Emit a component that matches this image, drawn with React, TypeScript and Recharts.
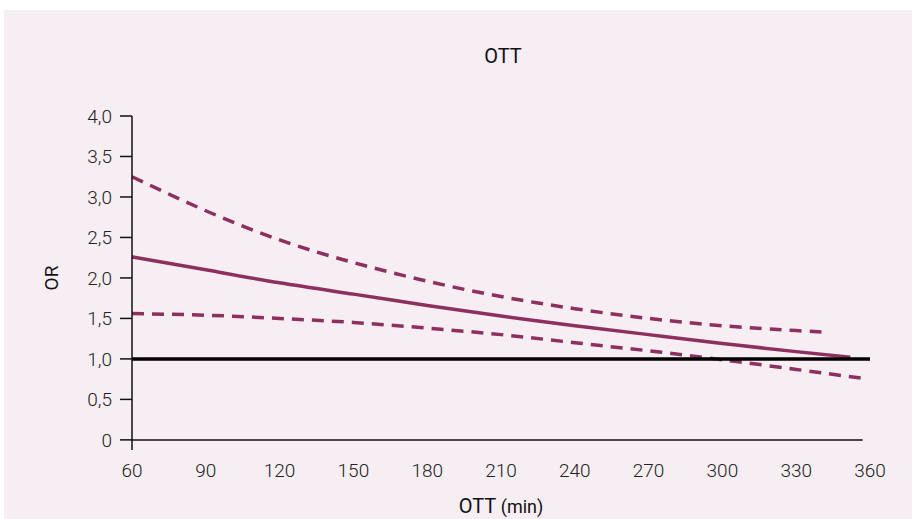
import React from 'react';
import { LineChart, Line, XAxis, YAxis, ReferenceLine, Label } from 'recharts';

const xTicks = [60, 90, 120, 150, 180, 210, 240, 270, 300, 330, 360];
const yTicks = [0, 0.5, 1, 1.5, 2, 2.5, 3, 3.5, 4];

const upperX = [60, 90, 120, 150, 180, 210, 240, 270, 300, 330, 342];
const upperOR = [3.25, 2.83, 2.47, 2.19, 1.96, 1.77, 1.62, 1.5, 1.41, 1.35, 1.33];

const mainX = [60, 90, 120, 150, 180, 210, 240, 270, 300, 330, 352];
const mainOR = [2.26, 2.1, 1.94, 1.8, 1.66, 1.53, 1.41, 1.3, 1.19, 1.09, 1.02];

const lowerX = [60, 90, 120, 150, 180, 210, 240, 270, 300, 330, 357];
const lowerOR = [1.56, 1.54, 1.5, 1.45, 1.38, 1.3, 1.2, 1.1, 0.99, 0.87, 0.76];

const refOR = 1;
const axisStart = 60;
const axisEnd = 357;

const toData = (xs: number[], ys: number[]) => xs.map((x, i) => ({ x, y: ys[i] }));
const upperData = toData(upperX, upperOR);
const mainData = toData(mainX, mainOR);
const lowerData = toData(lowerX, lowerOR);

const LINE = '#8d2f5f';
const FONT = 'Roboto, "Liberation Sans", sans-serif';

const fmtY = (v: number) => (v === 0 ? '0' : v.toFixed(1).replace('.', ','));

export default function App() {
  return (
    <div style={{ position: 'absolute', left: 0, top: 0, width: 912, height: 519, background: '#ffffff', fontFamily: FONT }}>
      <div style={{ position: 'absolute', left: 4, top: 10, right: 0, bottom: 0, background: '#f6eef3' }} />
      <div style={{ position: 'absolute', left: 403, width: 200, top: 44, textAlign: 'center', fontSize: 20, fontWeight: 400, color: '#111', lineHeight: '24px' }}>OTT</div>
      <div style={{ position: 'absolute', left: 0, top: 0 }}>
        <LineChart width={912} height={519} margin={{ top: 116, right: 42, bottom: 29, left: 72 }}>
          <XAxis
            type="number"
            dataKey="x"
            domain={[60, 360]}
            ticks={xTicks}
            axisLine={false}
            tickLine={false}
            tickSize={8}
            tickMargin={6}
            height={40}
            allowDuplicatedCategory={false}
            tick={{ fontSize: 19, fill: '#222', fontFamily: FONT, fontWeight: 300 }}
          >
            <Label
              content={(p: any) => {
                const vb = p.viewBox || { x: 132, y: 450, width: 738 };
                return (
                  <text x={vb.x + vb.width / 2} y={vb.y + 63} textAnchor="middle" fill="#111" fontFamily={FONT} fontWeight={400}>
                    <tspan fontSize={20}>OTT </tspan>
                    <tspan fontSize={18}>(min)</tspan>
                  </text>
                );
              }}
            />
          </XAxis>
          <YAxis
            type="number"
            domain={[-0.125, 4]}
            ticks={yTicks}
            tickFormatter={fmtY}
            width={60}
            axisLine={{ stroke: '#111', strokeWidth: 1.5 }}
            tickLine={{ stroke: '#111', strokeWidth: 1.5 }}
            tickSize={12}
            tickMargin={8}
            tick={{ fontSize: 19, fill: '#222', fontFamily: FONT, fontWeight: 300 }}
          >
            <Label
              content={(p: any) => {
                const vb = p.viewBox || { x: 72, y: 116, height: 334 };
                const cx = vb.x - 14;
                const cy = vb.y + 162;
                return (
                  <text x={cx} y={cy} transform={`rotate(-90 ${cx} ${cy})`} textAnchor="middle" fontSize={19} fill="#111" fontFamily={FONT} fontWeight={400}>
                    OR
                  </text>
                );
              }}
            />
          </YAxis>
          <ReferenceLine
            segment={[{ x: axisStart, y: 0 }, { x: axisEnd, y: 0 }]}
            stroke="#111"
            strokeWidth={1.5}
          />
          <Line data={upperData} dataKey="y" type="natural" stroke={LINE} strokeWidth={3.5} strokeDasharray="12 8" dot={false} isAnimationActive={false} />
          <Line data={mainData} dataKey="y" type="natural" stroke={LINE} strokeWidth={3.5} dot={false} isAnimationActive={false} />
          <Line data={lowerData} dataKey="y" type="natural" stroke={LINE} strokeWidth={3.5} strokeDasharray="12 8" dot={false} isAnimationActive={false} />
          <ReferenceLine y={refOR} stroke="#000" strokeWidth={3.5} />
        </LineChart>
      </div>
    </div>
  );
}
